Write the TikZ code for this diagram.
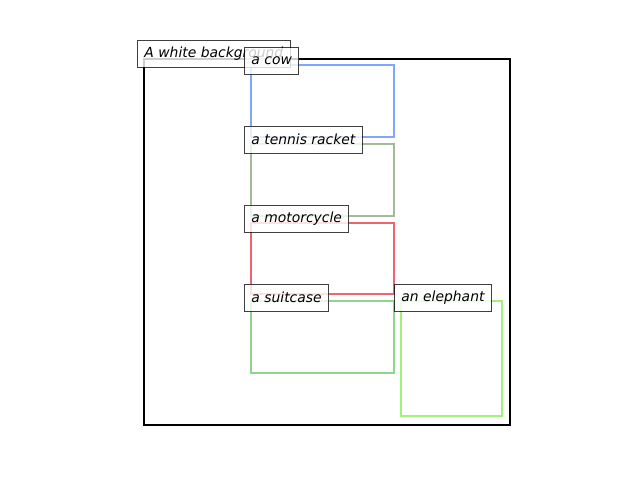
\documentclass[tikz,border=0pt]{standalone}
\usepackage{fontspec}
\setsansfont{DejaVu Sans}
\usepackage{tikz}

\definecolor{cowblue}{RGB}{128,166,255}
\definecolor{racketgreen}{RGB}{165,185,155}
\definecolor{motored}{RGB}{240,100,112}
\definecolor{suitgreen}{RGB}{140,215,140}
\definecolor{elegreen}{RGB}{165,240,125}

\begin{document}
\begin{tikzpicture}[x=0.72pt,y=-0.72pt]
\useasboundingbox (0,0) rectangle (640,480);
\draw[line width=1.44pt] (144,59) rectangle (510,425);

\begin{scope}[line width=1.44pt]
    \draw[cowblue] (251,65) rectangle (394,137);
    \draw[racketgreen] (251,144) rectangle (394,216);
    \draw[motored] (251,223) rectangle (394,294);
    \draw[suitgreen] (251,301) rectangle (394,373);
    \draw[elegreen] (401,301) rectangle (502,416);
\end{scope}

\begin{scope}[every node/.style={draw=black,draw opacity=0.75,line width=0.72pt,
              fill=white,fill opacity=0.8,text opacity=1,anchor=west,
              font=\sffamily\itshape,inner xsep=5pt,minimum height=19.44pt}]
    \node (bg) at (137,53.5) {A white background};
    \node (cow) at (244,61) {a cow};
    \node (racket) at (244,139.5) {a tennis racket};
    \node (moto) at (244,218.5) {a motorcycle};
    \node (suitcase) at (244,297.5) {a suitcase};
    \node (elephant) at (394,297.5) {an elephant};
\end{scope}
\end{tikzpicture}
\end{document}
